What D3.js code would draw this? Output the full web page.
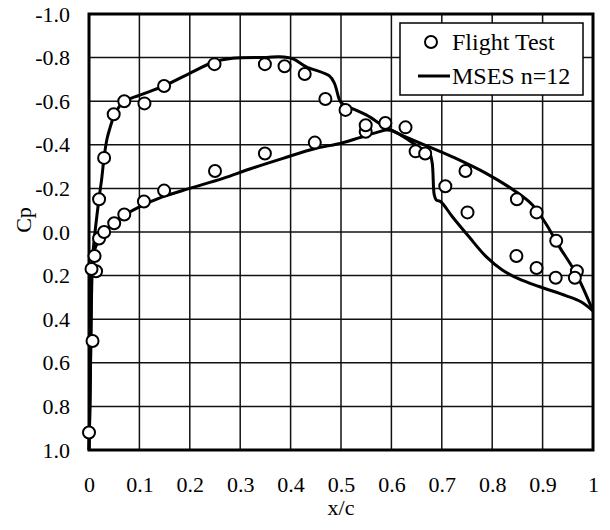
<!DOCTYPE html>
<html>
<head>
<meta charset="utf-8">
<script src="https://cdn.jsdelivr.net/npm/d3@7"></script>
<style>
  html, body { margin: 0; padding: 0; background: #fff; }
  svg { display: block; }
  text { font-family: "Liberation Serif", "Times New Roman", serif; fill: #000; }
</style>
</head>
<body>
<svg id="chart" width="610" height="530"></svg>
<script>
// Flight-test pressure taps (x/c, Cp)
const flightX = [0.000, 0.007, 0.014, 0.005, 0.011, 0.020, 0.030, 0.050, 0.070, 0.109, 0.149, 0.250, 0.349, 0.448, 0.549,
                 0.020, 0.030, 0.049, 0.070, 0.110, 0.149, 0.249, 0.349, 0.388, 0.428, 0.469, 0.509, 0.549, 0.588, 0.628,
                 0.648, 0.667, 0.707, 0.747, 0.751, 0.849, 0.848, 0.888, 0.888, 0.927, 0.926, 0.968, 0.964];
const flightCp = [0.92, 0.50, 0.18, 0.17, 0.11, 0.03, 0.00, -0.04, -0.08, -0.14, -0.19, -0.28, -0.36, -0.41, -0.46,
                  -0.15, -0.34, -0.54, -0.60, -0.59, -0.67, -0.77, -0.77, -0.76, -0.725, -0.61, -0.56, -0.49, -0.50, -0.48,
                  -0.37, -0.36, -0.21, -0.28, -0.09, -0.15, 0.11, -0.09, 0.165, 0.04, 0.21, 0.18, 0.21];

// MSES n=12 prediction, upper surface
const msesUpperX = [0.000, 0.002, 0.004, 0.006, 0.0085, 0.020, 0.025, 0.030, 0.036, 0.042, 0.050, 0.060, 0.070, 0.101,
                    0.149, 0.193, 0.249, 0.285, 0.352, 0.378, 0.405, 0.431, 0.477, 0.487, 0.497, 0.502, 0.550, 0.596,
                    0.721, 0.788, 0.847, 0.880, 0.906, 0.933, 0.966, 1.000];
const msesUpperCp = [1.00, 0.77, 0.45, 0.20, 0.08, -0.156, -0.24, -0.344, -0.43, -0.48, -0.535, -0.575, -0.600, -0.628,
                     -0.670, -0.720, -0.781, -0.797, -0.801, -0.804, -0.794, -0.758, -0.716, -0.682, -0.606, -0.590, -0.537, -0.471,
                     -0.345, -0.269, -0.185, -0.124, -0.040, 0.067, 0.189, 0.362];

// MSES n=12 prediction, lower surface
const msesLowerX = [0.000, 0.002, 0.004, 0.005, 0.0085, 0.022, 0.048, 0.071, 0.101, 0.147, 0.200, 0.266, 0.319, 0.385,
                    0.451, 0.500, 0.537, 0.570, 0.589, 0.602, 0.665, 0.675, 0.681, 0.685, 0.689, 0.698, 0.721, 0.754,
                    0.788, 0.820, 0.853, 0.893, 0.946, 0.976, 1.000];
const msesLowerCp = [1.00, 0.77, 0.40, 0.17, 0.10, 0.03, -0.04, -0.078, -0.116, -0.162, -0.200, -0.246, -0.289, -0.338,
                     -0.384, -0.407, -0.433, -0.456, -0.468, -0.465, -0.376, -0.367, -0.315, -0.170, -0.147, -0.139, -0.070, 0.022,
                     0.113, 0.174, 0.215, 0.250, 0.292, 0.320, 0.362];

const xTicks = [0, 0.1, 0.2, 0.3, 0.4, 0.5, 0.6, 0.7, 0.8, 0.9, 1];
const yTicks = [-1.0, -0.8, -0.6, -0.4, -0.2, 0.0, 0.2, 0.4, 0.6, 0.8, 1.0];

const margin = { left: 89, top: 14, right: 17, bottom: 80 };
const W = 610, H = 530;
const plotW = W - margin.left - margin.right;   // 504
const plotH = H - margin.top - margin.bottom;   // 436

const svg = d3.select("#chart");
svg.append("rect").attr("width", W).attr("height", H).attr("fill", "#fff");

const x = d3.scaleLinear().domain([0, 1]).range([margin.left, margin.left + plotW]);
const y = d3.scaleLinear().domain([-1, 1]).range([margin.top, margin.top + plotH]);

// grid
const grid = svg.append("g");
grid.selectAll("line.v").data(xTicks.slice(1, -1)).join("line")
  .attr("x1", d => x(d)).attr("x2", d => x(d))
  .attr("y1", y(-1)).attr("y2", y(1))
  .attr("stroke", "#111").attr("stroke-width", 1.5);
grid.selectAll("line.h").data(yTicks.slice(1, -1)).join("line")
  .attr("x1", x(0)).attr("x2", x(1))
  .attr("y1", d => y(d)).attr("y2", d => y(d))
  .attr("stroke", "#111").attr("stroke-width", 1.5);

// axes (labels only)
const fmtX = v => (v === 0 ? "0" : v === 1 ? "1" : v.toFixed(1));
const fmtY = v => v.toFixed(1);

const gx = svg.append("g").attr("transform", `translate(0,${y(1)})`)
  .call(d3.axisBottom(x).tickValues(xTicks).tickFormat(fmtX).tickSize(0).tickPadding(26));
gx.select(".domain").remove();
gx.selectAll("text").attr("font-size", 22).attr("font-family", "Liberation Serif");

const gy = svg.append("g").attr("transform", `translate(${x(0)},0)`)
  .call(d3.axisLeft(y).tickValues(yTicks).tickFormat(fmtY).tickSize(0).tickPadding(19));
gy.select(".domain").remove();
gy.selectAll("text").attr("font-size", 22).attr("font-family", "Liberation Serif");

// axis titles
svg.append("text").attr("x", x(0.5)).attr("y", 515)
  .attr("text-anchor", "middle").attr("font-size", 22).text("x/c");
svg.append("text").attr("transform", `translate(31,${y(0.0) - 12}) rotate(-90)`)
  .attr("text-anchor", "middle").attr("font-size", 22).text("Cp");

// MSES curves
const path = d3.line().x(d => x(d[0])).y(d => y(d[1])).curve(d3.curveCatmullRom.alpha(0.5));
const upper = msesUpperX.map((v, i) => [v, msesUpperCp[i]]);
const lower = msesLowerX.map((v, i) => [v, msesLowerCp[i]]);
svg.append("g").selectAll("path").data([upper, lower]).join("path")
  .attr("d", path).attr("fill", "none").attr("stroke", "#000")
  .attr("stroke-width", 3).attr("stroke-linejoin", "round");

// frame
svg.append("rect").attr("x", x(0)).attr("y", y(-1))
  .attr("width", x(1) - x(0)).attr("height", y(1) - y(-1))
  .attr("fill", "none").attr("stroke", "#000").attr("stroke-width", 3);

// flight test markers
svg.append("g").selectAll("circle").data(flightX.map((v, i) => [v, flightCp[i]])).join("circle")
  .attr("cx", d => x(d[0])).attr("cy", d => y(d[1])).attr("r", 6)
  .attr("fill", "#fff").attr("stroke", "#000").attr("stroke-width", 2);

// legend
const lg = svg.append("g");
lg.append("rect").attr("x", 400).attr("y", 23).attr("width", 183).attr("height", 72)
  .attr("fill", "#fff").attr("stroke", "#000").attr("stroke-width", 1.5);
lg.append("circle").attr("cx", 431).attr("cy", 42).attr("r", 6)
  .attr("fill", "#fff").attr("stroke", "#000").attr("stroke-width", 2);
lg.append("text").attr("x", 452).attr("y", 50).attr("font-size", 24).text("Flight Test");
lg.append("line").attr("x1", 418).attr("x2", 450).attr("y1", 76).attr("y2", 76)
  .attr("stroke", "#000").attr("stroke-width", 3);
lg.append("text").attr("x", 452).attr("y", 84).attr("font-size", 24).text("MSES n=12");
</script>
</body>
</html>
